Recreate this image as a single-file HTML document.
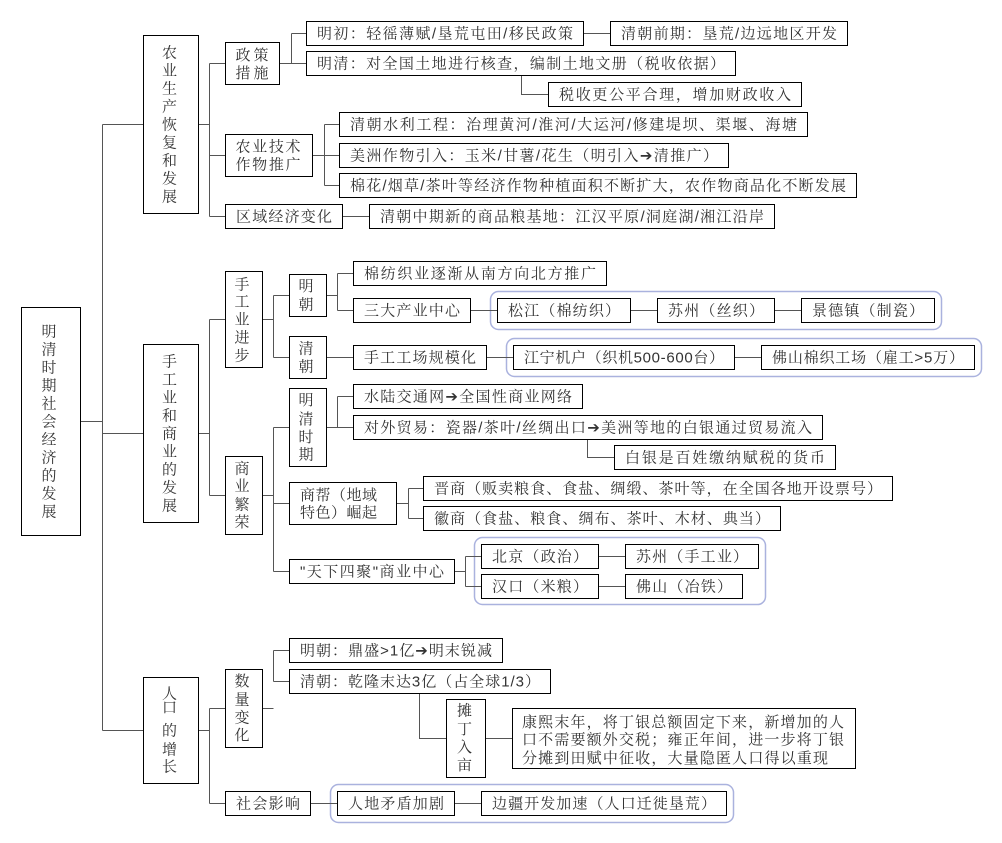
<!DOCTYPE html>
<html lang="zh-CN">
<head>
<meta charset="utf-8">
<title>明清时期社会经济的发展</title>
<style>
html,body{margin:0;padding:0;background:#fff}
svg{display:block}
rect{fill:#fff;stroke:#000;stroke-width:1}
rect.g{fill:none;stroke:#aab2de;stroke-width:1.5}
path{fill:none;stroke:#555;stroke-width:1}
text{font-family:"Liberation Sans","Noto Serif CJK SC","DejaVu Sans",serif;font-size:15px;fill:#333;letter-spacing:1px}
text.v{text-anchor:middle;letter-spacing:0}
</style>
</head>
<body>
<svg width="1002" height="843" viewBox="0 0 1002 843" xmlns="http://www.w3.org/2000/svg">
<rect class="g" x="490.5" y="291.5" width="451" height="38" rx="8"/>
<rect class="g" x="506.5" y="338.5" width="475" height="38" rx="8"/>
<rect class="g" x="474.5" y="537.5" width="291" height="67" rx="8"/>
<rect class="g" x="330.5" y="784.5" width="403" height="38" rx="8"/>
<path d="M81 421.5H102.5M102.5 124.5V730.5M102.5 124.5H143M102.5 433.5H143M102.5 730.5H143
M199 124.5H209.5M209.5 63.5V216.5M209.5 63.5H225M209.5 155.5H225M209.5 216.5H225
M280 63.5H306M291.5 33.5V63.5M291.5 33.5H306M584 33.5H610M521.5 76V94.5H548
M313 155.5H339M324.5 124.5V185.5M324.5 124.5H339M324.5 185.5H339M343 216.5H369
M199 433.5H209.5M209.5 319.5V495.5M209.5 319.5H225M209.5 495.5H225
M263 319.5H273.5M273.5 295.5V357.5M273.5 295.5H289M273.5 357.5H289
M327 295.5H337.5M337.5 273.5V310.5M337.5 273.5H353M337.5 310.5H353M471 310.5H497M631 310.5H657M775 310.5H801
M327 357.5H353M487 357.5H513M735 357.5H761
M263 495.5H273.5M273.5 427.5V571.5M273.5 427.5H289M273.5 503.5H289M273.5 571.5H289
M327 427.5H353M337.5 396.5V427.5M337.5 396.5H353M587.5 440V457.5H614
M397 503.5H408.5M408.5 488.5V518.5M408.5 488.5H423M408.5 518.5H423
M455 571.5H465.5M465.5 556.5V586.5M465.5 556.5H481M465.5 586.5H481M599 556.5H625M599 586.5H625
M199 730.5H209.5M209.5 708.5V803.5M209.5 708.5H225M209.5 803.5H225
M263 708.5H273.5M273.5 650.5V681.5M273.5 650.5H289M273.5 681.5H289
M419.5 694V738.5H446M486 738.5H512M311 803.5H337M455 803.5H481"/>

<rect x="21.5" y="307.5" width="59" height="228"/>
<text class="v" x="49" y="336.5">明</text><text class="v" x="49" y="354.5">清</text><text class="v" x="49" y="372.5">时</text><text class="v" x="49" y="390.5">期</text><text class="v" x="49" y="408.5">社</text><text class="v" x="49" y="426.5">会</text><text class="v" x="49" y="444.5">经</text><text class="v" x="49" y="462.5">济</text><text class="v" x="49" y="480.5">的</text><text class="v" x="49" y="498.5">发</text><text class="v" x="49" y="516.5">展</text>

<rect x="143.5" y="35.5" width="55" height="178"/>
<text class="v" x="169.5" y="57.5">农</text><text class="v" x="169.5" y="75.5">业</text><text class="v" x="169.5" y="93.5">生</text><text class="v" x="169.5" y="111.5">产</text><text class="v" x="169.5" y="129.5">恢</text><text class="v" x="169.5" y="147.5">复</text><text class="v" x="169.5" y="165.5">和</text><text class="v" x="169.5" y="183.5">发</text><text class="v" x="169.5" y="201.5">展</text>

<rect x="143.5" y="344.5" width="55" height="178"/>
<text class="v" x="169.5" y="366.5">手</text><text class="v" x="169.5" y="384.5">工</text><text class="v" x="169.5" y="402.5">业</text><text class="v" x="169.5" y="420.5">和</text><text class="v" x="169.5" y="438.5">商</text><text class="v" x="169.5" y="456.5">业</text><text class="v" x="169.5" y="474.5">的</text><text class="v" x="169.5" y="492.5">发</text><text class="v" x="169.5" y="510.5">展</text>

<rect x="143.5" y="677.5" width="55" height="106"/>
<text class="v" x="169.5" y="698.5">人</text><text class="v" x="169.5" y="712.5">口</text><text class="v" x="169.5" y="735.5">的</text><text class="v" x="169.5" y="754.5">增</text><text class="v" x="169.5" y="771.5">长</text>

<rect x="225.5" y="42.5" width="54" height="42"/>
<text x="235.5" y="60" textLength="34">政策</text><text x="235.5" y="78" textLength="34">措施</text>
<rect x="306.5" y="21.5" width="277" height="24"/><text x="317" y="38.5" textLength="257">明初：轻徭薄赋/垦荒屯田/移民政策</text>
<rect x="610.5" y="21.5" width="237" height="24"/><text x="621" y="38.5" textLength="217">清朝前期：垦荒/边远地区开发</text>
<rect x="306.5" y="51.5" width="429" height="24"/><text x="317" y="68.5" textLength="409">明清：对全国土地进行核查，编制土地文册（税收依据）</text>
<rect x="548.5" y="82.5" width="253" height="24"/><text x="559" y="99.5" textLength="233">税收更公平合理，增加财政收入</text>
<rect x="225.5" y="134.5" width="87" height="42"/>
<text x="235.5" y="151.5" textLength="66">农业技术</text><text x="235.5" y="169.5" textLength="66">作物推广</text>
<rect x="339.5" y="112.5" width="468" height="24"/><text x="350" y="129.5" textLength="448">清朝水利工程：治理黄河/淮河/大运河/修建堤坝、渠堰、海塘</text>
<rect x="339.5" y="143.5" width="389" height="24"/><text x="350" y="160.5" textLength="369">美洲作物引入：玉米/甘薯/花生（明引入➔清推广）</text>
<rect x="339.5" y="173.5" width="517" height="24"/><text x="350" y="190.5" textLength="497">棉花/烟草/茶叶等经济作物种植面积不断扩大，农作物商品化不断发展</text>
<rect x="225.5" y="204.5" width="117" height="24"/><text x="236" y="221.5" textLength="97">区域经济变化</text>
<rect x="369.5" y="204.5" width="405" height="24"/><text x="380" y="221.5" textLength="385">清朝中期新的商品粮基地：江汉平原/洞庭湖/湘江沿岸</text>

<rect x="225.5" y="271.5" width="37" height="96"/>
<text class="v" x="242" y="289.5">手</text><text class="v" x="242" y="306.5">工</text><text class="v" x="242" y="324.5">业</text><text class="v" x="242" y="342.5">进</text><text class="v" x="242" y="360.5">步</text>
<rect x="289.5" y="274.5" width="37" height="42"/>
<text class="v" x="306" y="291">明</text><text class="v" x="306" y="309.5">朝</text>
<rect x="353.5" y="261.5" width="253" height="24"/><text x="364" y="278.5" textLength="233">棉纺织业逐渐从南方向北方推广</text>
<rect x="353.5" y="298.5" width="117" height="24"/><text x="364" y="315.5" textLength="97">三大产业中心</text>
<rect x="497.5" y="298.5" width="133" height="24"/><text x="508" y="315.5" textLength="113">松江（棉纺织）</text>
<rect x="657.5" y="298.5" width="117" height="24"/><text x="668" y="315.5" textLength="97">苏州（丝织）</text>
<rect x="801.5" y="298.5" width="133" height="24"/><text x="812" y="315.5" textLength="113">景德镇（制瓷）</text>
<rect x="289.5" y="336.5" width="37" height="42"/>
<text class="v" x="306" y="353.5">清</text><text class="v" x="306" y="371.5">朝</text>
<rect x="353.5" y="345.5" width="133" height="24"/><text x="364" y="362.5" textLength="113">手工工场规模化</text>
<rect x="513.5" y="345.5" width="221" height="24"/><text x="524" y="362.5" textLength="201">江宁机户（织机500-600台）</text>
<rect x="761.5" y="345.5" width="213" height="24"/><text x="772" y="362.5" textLength="193">佛山棉织工场（雇工&gt;5万）</text>

<rect x="225.5" y="456.5" width="37" height="78"/>
<text class="v" x="242" y="473.5">商</text><text class="v" x="242" y="491">业</text><text class="v" x="242" y="509.5">繁</text><text class="v" x="242" y="527">荣</text>
<rect x="289.5" y="388.5" width="37" height="78"/>
<text class="v" x="306" y="405">明</text><text class="v" x="306" y="424">清</text><text class="v" x="306" y="442">时</text><text class="v" x="306" y="459.5">期</text>
<rect x="353.5" y="384.5" width="229" height="24"/><text x="364" y="401.5" textLength="209">水陆交通网➔全国性商业网络</text>
<rect x="353.5" y="415.5" width="469" height="24"/><text x="364" y="432.5" textLength="449">对外贸易：瓷器/茶叶/丝绸出口➔美洲等地的白银通过贸易流入</text>
<rect x="614.5" y="445.5" width="221" height="24"/><text x="625" y="462.5" textLength="201">白银是百姓缴纳赋税的货币</text>
<rect x="289.5" y="482.5" width="107" height="42"/>
<text x="300" y="500" textLength="78">商帮（地域</text><text x="300" y="517.5" textLength="78">特色）崛起</text>
<rect x="423.5" y="476.5" width="469" height="24"/><text x="434" y="493.5" textLength="449">晋商（贩卖粮食、食盐、绸缎、茶叶等，在全国各地开设票号）</text>
<rect x="423.5" y="506.5" width="357" height="24"/><text x="434" y="523.5" textLength="337">徽商（食盐、粮食、绸布、茶叶、木材、典当）</text>
<rect x="289.5" y="559.5" width="165" height="24"/><text x="300" y="576.5" textLength="145">"天下四聚"商业中心</text>
<rect x="481.5" y="544.5" width="117" height="24"/><text x="492" y="561.5" textLength="97">北京（政治）</text>
<rect x="625.5" y="544.5" width="133" height="24"/><text x="636" y="561.5" textLength="113">苏州（手工业）</text>
<rect x="481.5" y="574.5" width="117" height="24"/><text x="492" y="591.5" textLength="97">汉口（米粮）</text>
<rect x="625.5" y="574.5" width="117" height="24"/><text x="636" y="591.5" textLength="97">佛山（冶铁）</text>

<rect x="225.5" y="669.5" width="37" height="78"/>
<text class="v" x="242" y="686">数</text><text class="v" x="242" y="704.5">量</text><text class="v" x="242" y="722.5">变</text><text class="v" x="242" y="740">化</text>
<rect x="289.5" y="638.5" width="213" height="24"/><text x="300" y="655.5" textLength="193">明朝：鼎盛&gt;1亿➔明末锐减</text>
<rect x="289.5" y="669.5" width="261" height="24"/><text x="300" y="686.5" textLength="241">清朝：乾隆末达3亿（占全球1/3）</text>
<rect x="446.5" y="699.5" width="39" height="78"/>
<text class="v" x="464.5" y="715.5">摊</text><text class="v" x="464.5" y="734">丁</text><text class="v" x="464.5" y="752">入</text><text class="v" x="464.5" y="770">亩</text>
<rect x="512.5" y="708.5" width="343" height="60"/>
<text x="522" y="727" textLength="323">康熙末年，将丁银总额固定下来，新增加的人</text>
<text x="522" y="744.5" textLength="323">口不需要额外交税；雍正年间，进一步将丁银</text>
<text x="522" y="763" textLength="307">分摊到田赋中征收，大量隐匿人口得以重现</text>
<rect x="225.5" y="791.5" width="85" height="24"/><text x="236" y="808.5" textLength="65">社会影响</text>
<rect x="337.5" y="791.5" width="117" height="24"/><text x="348" y="808.5" textLength="97">人地矛盾加剧</text>
<rect x="481.5" y="791.5" width="245" height="24"/><text x="492" y="808.5" textLength="225">边疆开发加速（人口迁徙垦荒）</text>
</svg>
</body>
</html>
